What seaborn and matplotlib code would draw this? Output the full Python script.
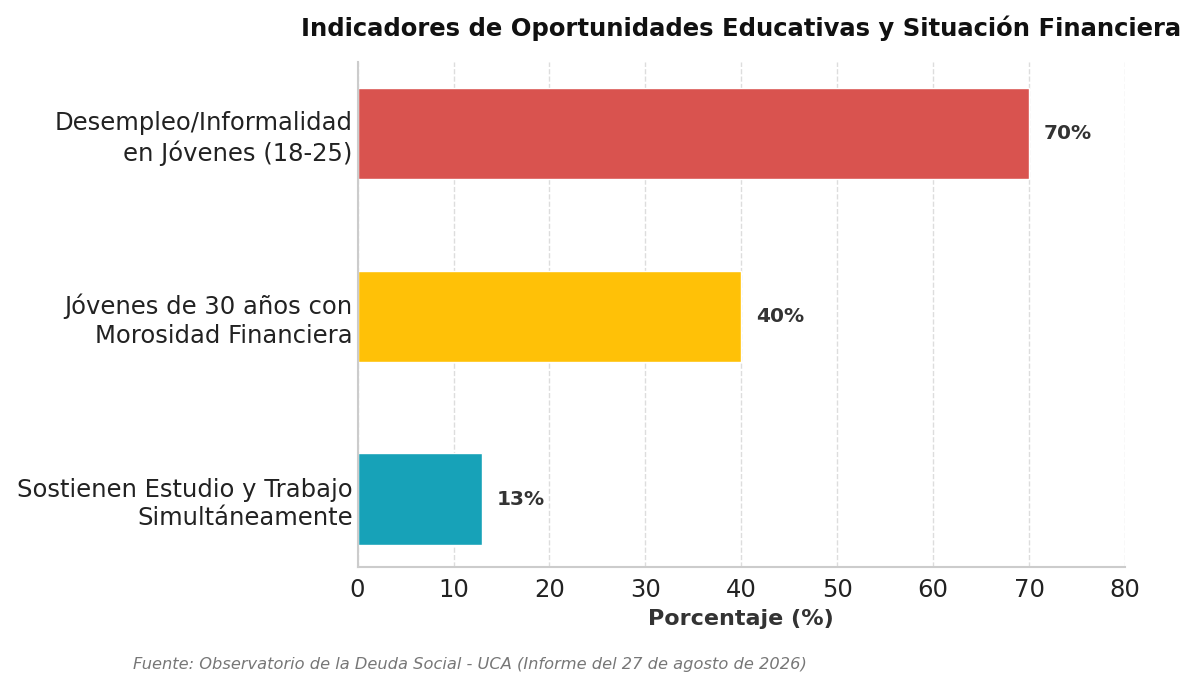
import pandas as pd
import seaborn as sns
import matplotlib.pyplot as plt

categories = ['Desempleo/Informalidad\nen Jóvenes (18-25)',
              'Jóvenes de 30 años con\nMorosidad Financiera',
              'Sostienen Estudio y Trabajo\nSimultáneamente']
values = [70, 40, 13]
colors = ['#d9534f', '#ffc107', '#17a2b8']

df = pd.DataFrame({'cat': categories, 'val': values})

sns.set_style('whitegrid')
fig = plt.figure(figsize=(12, 6.88), dpi=100)
ax = fig.add_axes([0.298, 0.176, 0.6395, 0.734])

sns.barplot(data=df, x='val', y='cat', hue='cat', palette=colors,
            legend=False, width=0.5, ax=ax, saturation=1)

for i, v in enumerate(values):
    ax.text(v + 1.5, i, f'{v}%', va='center', ha='left',
            fontsize=14.5, fontweight='bold', color='#333333')

ax.set_xlim(0, 80)
ax.set_ylim(2.37, -0.39)
ax.grid(axis='x', linestyle='--', color='#dddddd', linewidth=1)
ax.grid(axis='y', visible=False)
for s in ['top', 'right']:
    ax.spines[s].set_visible(False)
for s in ['left', 'bottom']:
    ax.spines[s].set_color('#cccccc')
    ax.spines[s].set_linewidth(1.5)

ax.tick_params(axis='both', labelsize=17.5, length=0, colors='#222222')
ax.tick_params(axis='x', pad=8)
for lbl in ax.get_yticklabels():
    lbl.set_linespacing(1.25)
ax.set_ylabel('')
ax.set_xlabel('Porcentaje (%)', fontsize=16, fontweight='bold', color='#333333',
              labelpad=5)
ax.set_title('Indicadores de Oportunidades Educativas y Situación Financiera',
             fontsize=17.5, fontweight='bold', pad=19, color='#111111')

fig.text(0.111, 0.028, 'Fuente: Observatorio de la Deuda Social - UCA (Informe del 27 de agosto de 2026)',
         fontsize=11.7, style='italic', color='#777777')

fig.savefig('out.png', dpi=100)
